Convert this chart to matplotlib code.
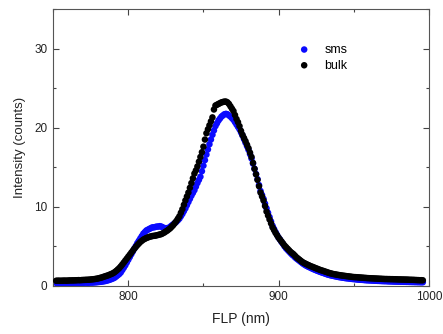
import numpy as np
import matplotlib
matplotlib.use("Agg")
import matplotlib.pyplot as plt
from matplotlib.ticker import MultipleLocator

plt.rcParams['font.family'] = ['Liberation Sans', 'DejaVu Sans']

# wavelength grid (nm)
wl = np.arange(752, 997, 1)

bulk = [
    0.65, 0.66, 0.66, 0.65, 0.66, 0.67, 0.67, 0.66, 0.68, 0.69,
    0.69, 0.70, 0.70, 0.71, 0.72, 0.73, 0.72, 0.74, 0.75, 0.76,
    0.77, 0.78, 0.79, 0.81, 0.83, 0.85, 0.88, 0.91,
    0.95, 1.00, 1.05, 1.11, 1.18, 1.24, 1.30, 1.37, 1.45, 1.53,
    1.62, 1.75, 1.90, 2.07, 2.25, 2.47, 2.70, 2.95, 3.20, 3.45,
    3.70, 3.95, 4.20, 4.45, 4.70, 4.93, 5.15, 5.35, 5.55, 5.70,
    5.85, 5.95, 6.05, 6.12, 6.20, 6.25, 6.30, 6.33, 6.35, 6.40,
    6.45, 6.50, 6.55, 6.65, 6.75, 6.88, 7.00, 7.15, 7.30, 7.50,
    7.70, 7.95, 8.20, 8.50, 8.80, 9.25, 9.70, 10.25, 10.80, 11.30,
    11.80, 12.40, 13.00, 13.60, 14.20, 14.60, 15.10, 15.70, 16.30, 16.90,
    17.60, 18.50, 19.30, 19.80, 20.30, 20.80, 21.30, 22.30, 22.80, 22.90,
    23.00, 23.10, 23.20, 23.25, 23.30, 23.30, 23.20, 23.00, 22.70, 22.40,
    22.10, 21.60, 21.10, 20.70, 20.20, 19.60, 19.10, 18.70, 18.30, 17.85,
    17.40, 16.85, 16.30, 15.55, 14.80, 14.10, 13.40, 12.60, 11.80, 11.30,
    10.80, 10.10, 9.40, 8.90, 8.40, 7.90, 7.40, 7.05, 6.70, 6.40,
    6.10, 5.85, 5.60, 5.35, 5.10, 4.90, 4.70, 4.50, 4.30, 4.15,
    4.00, 3.80, 3.60, 3.45, 3.30, 3.15, 3.00, 2.90, 2.80, 2.71,
    2.62, 2.53, 2.45, 2.38, 2.30, 2.22, 2.15, 2.07, 2.00, 1.94,
    1.88, 1.81, 1.75, 1.68, 1.62, 1.57, 1.52, 1.48, 1.45, 1.41,
    1.38, 1.35, 1.32, 1.29, 1.27, 1.24, 1.22, 1.19, 1.17, 1.14,
    1.12, 1.11, 1.10, 1.08, 1.07, 1.05, 1.04, 1.02, 1.01, 0.99,
    0.98, 0.97, 0.96, 0.95, 0.94, 0.93, 0.92, 0.91, 0.90, 0.89,
    0.88, 0.87, 0.87, 0.86, 0.86, 0.85, 0.85, 0.84, 0.84, 0.83,
    0.82, 0.82, 0.81, 0.81, 0.80, 0.80, 0.79, 0.78, 0.77, 0.77,
    0.76, 0.75, 0.74, 0.73, 0.72, 0.72, 0.71,
]

sms = [
    0.38, 0.36, 0.39, 0.37, 0.36, 0.38, 0.40, 0.37, 0.36, 0.39,
    0.38, 0.37, 0.39, 0.41, 0.38, 0.36, 0.39, 0.40, 0.38, 0.41,
    0.42, 0.39, 0.41, 0.43, 0.42, 0.44, 0.45, 0.47,
    0.49, 0.51, 0.53, 0.56, 0.59, 0.63, 0.68, 0.74, 0.80, 0.88,
    0.95, 1.05, 1.20, 1.35, 1.50, 1.70, 2.00, 2.30, 2.60, 2.95,
    3.30, 3.65, 4.00, 4.35, 4.70, 5.05, 5.40, 5.70, 6.00, 6.30,
    6.60, 6.80, 7.00, 7.10, 7.20, 7.30, 7.40, 7.40, 7.45, 7.50,
    7.50, 7.55, 7.50, 7.40, 7.30, 7.30, 7.30, 7.35, 7.50, 7.65,
    7.80, 7.95, 8.10, 8.30, 8.50, 8.80, 9.10, 9.45, 9.80, 10.20,
    10.60, 11.00, 11.40, 11.75, 12.10, 12.55, 13.00, 13.40, 13.80, 14.50,
    15.20, 15.90, 16.60, 17.25, 17.90, 18.50, 19.10, 19.65, 20.20, 20.55,
    20.90, 21.15, 21.40, 21.55, 21.70, 21.75, 21.70, 21.55, 21.40, 21.20,
    21.00, 20.70, 20.40, 20.10, 19.80, 19.40, 19.00, 18.55, 18.10, 17.65,
    17.20, 16.65, 16.10, 15.45, 14.80, 14.15, 13.50, 12.75, 12.00, 11.50,
    11.00, 10.40, 9.80, 9.25, 8.70, 8.15, 7.60, 7.20, 6.80, 6.45,
    6.10, 5.85, 5.55, 5.30, 5.00, 4.75, 4.55, 4.35, 4.15, 3.95,
    3.80, 3.60, 3.45, 3.30, 3.15, 3.00, 2.85, 2.72, 2.60, 2.50,
    2.40, 2.32, 2.22, 2.14, 2.05, 1.97, 1.90, 1.82, 1.75, 1.68,
    1.62, 1.55, 1.48, 1.42, 1.37, 1.32, 1.28, 1.24, 1.20, 1.16,
    1.12, 1.09, 1.06, 1.03, 1.00, 0.97, 0.95, 0.93, 0.90, 0.88,
    0.86, 0.84, 0.82, 0.80, 0.78, 0.77, 0.76, 0.74, 0.72, 0.71,
    0.70, 0.69, 0.68, 0.67, 0.66, 0.65, 0.64, 0.63, 0.62, 0.61,
    0.60, 0.60, 0.59, 0.58, 0.57, 0.57, 0.56, 0.55, 0.55, 0.54,
    0.54, 0.53, 0.53, 0.52, 0.52, 0.51, 0.51, 0.50, 0.50, 0.49,
    0.49, 0.48, 0.48, 0.47, 0.47, 0.46, 0.46,
]

series_labels = ["sms", "bulk"]
x_ticks = [800, 900, 1000]
y_ticks = [0, 10, 20, 30]

fig = plt.figure(figsize=(4.43, 3.34), dpi=100)
ax = fig.add_axes([0.120, 0.144, 0.848, 0.829])

ax.scatter(wl, sms, s=22, color="#0a0aff", edgecolors="none", label=series_labels[0], zorder=2)
ax.scatter(wl, bulk, s=22, color="black", edgecolors="none", label=series_labels[1], zorder=3)

ax.set_xlim(750, 1000)
ax.set_ylim(0, 35)
ax.set_xticks(x_ticks)
ax.set_yticks(y_ticks)
ax.xaxis.set_minor_locator(MultipleLocator(50))
ax.yaxis.set_minor_locator(MultipleLocator(5))
ax.tick_params(which="both", direction="in", top=True, right=True, colors="#444444",
               labelcolor="#222222", labelsize=8.5, width=0.8)
ax.tick_params(which="major", length=4, pad=4)
ax.tick_params(which="minor", length=2.5)
for sp in ax.spines.values():
    sp.set_color("#555555")
    sp.set_linewidth(0.8)

ax.set_xlabel("FLP (nm)", fontsize=10, color="#222222", labelpad=6)
ax.set_ylabel("Intensity (counts)", fontsize=9.5, color="#222222", labelpad=6)

ax.legend(loc="upper left", bbox_to_anchor=(0.605, 0.915), frameon=False, fontsize=9,
          handletextpad=0.6, labelspacing=0.3, markerscale=1.0, scatterpoints=1)

fig.savefig("out.png", dpi=100)
